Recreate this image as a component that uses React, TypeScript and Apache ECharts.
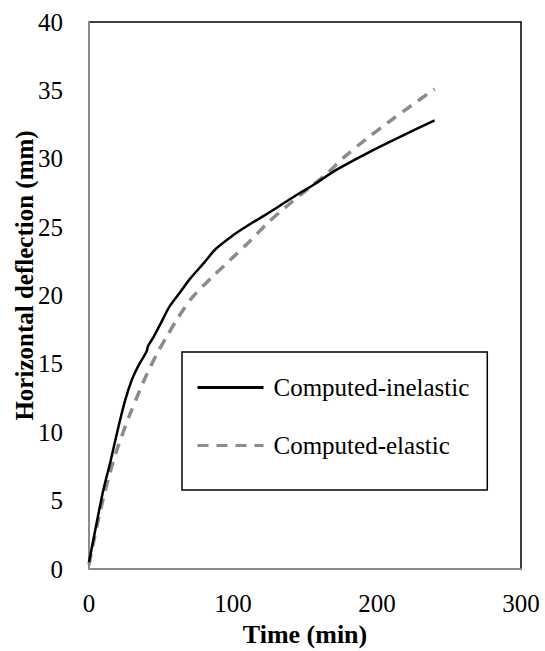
import React, { useEffect, useRef } from "react";
import * as echarts from "echarts";

const inelasticTime = [0, 5, 10, 15, 20, 25, 30, 35, 40, 41, 45, 50, 56, 63, 70, 80, 88, 100, 110, 121, 133, 145, 156, 172, 193, 216, 240];
const inelasticDefl = [0.5, 3.2, 5.8, 7.9, 10.2, 12.3, 13.9, 15.0, 15.9, 16.3, 17.0, 18.0, 19.2, 20.2, 21.2, 22.4, 23.4, 24.4, 25.1, 25.8, 26.6, 27.4, 28.1, 29.2, 30.4, 31.6, 32.8];

const elasticTime = [0, 5, 10, 15, 20, 28, 35, 40, 47, 54, 62, 72, 86, 98, 112, 124, 137, 151, 166, 177, 192, 207, 224, 240];
const elasticDefl = [0.3, 2.9, 5.2, 7.2, 8.9, 11.2, 13.0, 14.2, 15.7, 17.0, 18.4, 19.9, 21.4, 22.6, 24.0, 25.3, 26.5, 27.7, 29.0, 30.1, 31.4, 32.6, 33.9, 35.1];

const seriesNames = ["Computed-inelastic", "Computed-elastic"];
const xTicks = { min: 0, max: 300, interval: 100 };
const yTicks = { min: 0, max: 40, interval: 5 };

const FONT = "'Liberation Serif', 'Times New Roman', serif";

export default function App() {
  const ref = useRef<HTMLDivElement>(null);
  useEffect(() => {
    if (!ref.current) return;
    const chart = echarts.init(ref.current, undefined, { renderer: "svg" });
    const inel = inelasticTime.map((t, i) => [t, inelasticDefl[i]]);
    const el = elasticTime.map((t, i) => [t, elasticDefl[i]]);
    chart.setOption({
      animation: false,
      backgroundColor: "#ffffff",
      textStyle: { fontFamily: FONT },
      grid: {
        left: 89,
        right: 24,
        top: 22,
        bottom: 82,
        containLabel: false,
        outerBoundsMode: "none",
        show: true,
        borderColor: "#000000",
        borderWidth: 1.5,
        backgroundColor: "transparent",
      },
      legend: {
        orient: "vertical",
        left: 182,
        top: 352,
        padding: [23, 18, 32, 14],
        borderColor: "#000000",
        borderWidth: 1.5,
        itemWidth: 66,
        itemHeight: 14,
        itemGap: 33,
        itemStyle: { opacity: 0, borderWidth: 0 },
        lineStyle: { width: 3 },
        textStyle: { fontFamily: FONT, fontSize: 25, color: "#000000", padding: [0, 0, 0, 5] },
        data: seriesNames,
      },
      xAxis: {
        type: "value",
        min: xTicks.min,
        max: xTicks.max,
        interval: xTicks.interval,
        name: "Time (min)",
        nameLocation: "middle",
        nameGap: 52,
        nameMoveOverlap: false,
        nameTextStyle: { fontFamily: FONT, fontSize: 26, fontWeight: "bold", color: "#000000" },
        axisLine: { show: true, lineStyle: { color: "#a6a6a6", width: 1.5 } },
        axisTick: { show: false },
        splitLine: { show: false },
        axisLabel: { fontFamily: FONT, fontSize: 25, color: "#000000", margin: 22 },
      },
      yAxis: {
        type: "value",
        min: yTicks.min,
        max: yTicks.max,
        interval: yTicks.interval,
        name: "Horizontal deflection (mm)",
        nameLocation: "middle",
        nameGap: 52,
        nameMoveOverlap: false,
        nameTextStyle: { fontFamily: FONT, fontSize: 25, fontWeight: "bold", color: "#000000", padding: [0, 0, 0, 40] },
        axisLine: { show: true, lineStyle: { color: "#a6a6a6", width: 1.5 } },
        axisTick: { show: false },
        splitLine: { show: false },
        axisLabel: { fontFamily: FONT, fontSize: 25, color: "#000000", margin: 26 },
      },
      series: [
        {
          name: seriesNames[0],
          type: "line",
          data: inel,
          showSymbol: false,
          symbol: "none",
          smooth: 0.3,
          lineStyle: { color: "#000000", width: 2.5 },
          itemStyle: { color: "#000000" },
          z: 3,
        },
        {
          name: seriesNames[1],
          type: "line",
          data: el,
          showSymbol: false,
          symbol: "none",
          smooth: 0.3,
          lineStyle: { color: "#8c8c8c", width: 3.5, type: [11, 8] },
          itemStyle: { color: "#8c8c8c" },
          z: 2,
        },
      ],
    });
    return () => chart.dispose();
  }, []);
  return <div ref={ref} style={{ width: 545, height: 651, position: "absolute", left: 0, top: 0 }} />;
}
